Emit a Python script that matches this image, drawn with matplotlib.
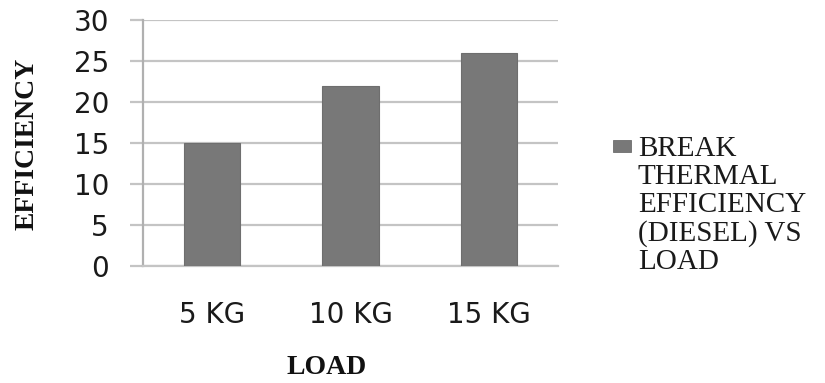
import matplotlib
matplotlib.use("Agg")
import matplotlib.pyplot as plt
from matplotlib.patches import Rectangle

categories = ["5 KG", "10 KG", "15 KG"]
values = [15, 22, 26]
series_name = "BREAK\nTHERMAL\nEFFICIENCY\n(DIESEL) VS\nLOAD"
yticks = [0, 5, 10, 15, 20, 25, 30]

W, H = 825, 383
fig = plt.figure(figsize=(W/100, H/100), dpi=100)
ax = fig.add_axes([143/W, 1-266/H, 415/W, 246/H])

bar_color = "#787878"
x = range(len(categories))
ax.bar(x, values, width=0.405, color=bar_color, edgecolor="#6e6e6e", linewidth=0.8,
       label=series_name, zorder=3)
ax.set_xlim(-0.5, len(categories) - 0.5)
ax.set_ylim(0, 30)
ax.set_yticks(yticks)
ax.set_xticks(list(x))
ax.set_xticklabels(categories)

ax.grid(axis="y", color="#c4c4c4", linewidth=1.6, zorder=0)
for s in ["top", "right"]:
    ax.spines[s].set_visible(False)
ax.spines["left"].set_color("#b0b0b0")
ax.spines["left"].set_linewidth(1.6)
ax.spines["bottom"].set_color("#c4c4c4")
ax.spines["bottom"].set_linewidth(1.6)

ax.tick_params(axis="y", length=9.5, width=1.6, color="#c4c4c4", pad=15,
               labelsize=20, labelcolor="#1a1a1a")
ax.tick_params(axis="x", length=0, pad=25, labelsize=20, labelcolor="#1a1a1a")
for lab in ax.get_xticklabels() + ax.get_yticklabels():
    lab.set_fontfamily("DejaVu Sans")

ax.set_xlabel("LOAD", fontfamily="Liberation Serif", fontweight="bold", fontsize=20,
              va="center", color="#111111")
ax.xaxis.set_label_coords((327-143)/415, (266-368)/246)
ax.set_ylabel("EFFICIENCY", fontfamily="Liberation Serif", fontweight="bold", fontsize=20,
              va="center", color="#111111")
ax.yaxis.set_label_coords((27-143)/415, (266-144)/246)

# legend (manual, so that the swatch sits beside the first line as in the reference)
fig.patches.append(Rectangle((613/W, 1-152/H), 18/W, 12/H, transform=fig.transFigure,
                             facecolor=bar_color, edgecolor="#6e6e6e", linewidth=0.6))
fig.text(638/W, 1-136/H, series_name, fontfamily="Liberation Serif", fontsize=21,
         color="#1a1a1a", ha="left", va="top", linespacing=1.1)

fig.savefig("out.png", dpi=100)
